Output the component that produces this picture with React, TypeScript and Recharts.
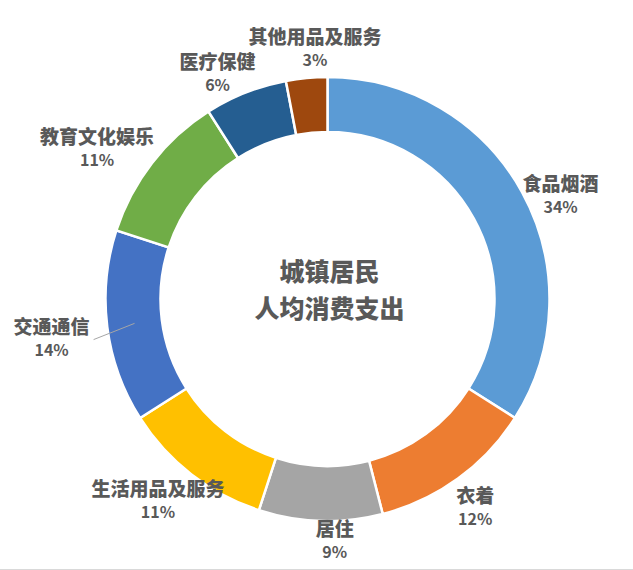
import React from "react";
import { PieChart, Pie, Cell } from "recharts";

const categories = ["食品烟酒", "衣着", "居住", "生活用品及服务", "交通通信", "教育文化娱乐", "医疗保健", "其他用品及服务"];
const shares = [34, 12, 9, 11, 14, 11, 6, 3];
const centerLines = ["城镇居民", "人均消费支出"];

const COLORS = ["#5B9BD5", "#ED7D31", "#A5A5A5", "#FFC000", "#4472C4", "#70AD47", "#255E91", "#9E480E"];
// small per-label layout nudges (px), mimicking Excel's best-fit placement
const LABEL_NUDGE: [number, number][] = [
  [0, 18], [2, 5], [15, -10], [10, 2], [-12, 8], [-6, 4], [-12, 9], [15, 0],
];
const LEADER = [false, false, false, false, true, false, false, false];

const data = categories.map((name, i) => ({ name, value: shares[i] }));
const total = shares.reduce((a, b) => a + b, 0);

const FONT = "'Noto Sans CJK SC', 'Noto Sans', sans-serif";
const TEXT = "#595959";
const RAD = Math.PI / 180;

const renderLabel = (props: any) => {
  const { cx, cy, midAngle, outerRadius, innerRadius, index, name, value } = props;
  const ux = Math.cos(-midAngle * RAD);
  const uy = Math.sin(-midAngle * RAD);
  const gap = 8;
  const nameSize = 18;
  const hw = (name.length * nameSize) / 2;
  const hh = 22;
  const ax = cx + (outerRadius + gap) * ux;
  const ay = cy + (outerRadius + gap) * uy;
  const [nx, ny] = LABEL_NUDGE[index] || [0, 0];
  const lx = ax + ux * hw + nx;
  const ly = ay + uy * hh + ny;
  const pct = Math.round((value / total) * 100) + "%";
  const midR = (innerRadius + outerRadius) / 2;
  return (
    <g>
      {LEADER[index] && (
        <line
          x1={lx + hw + 6}
          y1={ly + 1}
          x2={cx + midR * ux}
          y2={cy + midR * uy}
          stroke="#A6A6A6"
          strokeWidth={1}
        />
      )}
      <text textAnchor="middle" fill={TEXT} fontWeight={900} fontFamily={FONT}>
        <tspan x={lx} y={ly - 4.5} fontSize={19}>{name}</tspan>
        <tspan x={lx} y={ly + 17.5} fontSize={16} fontWeight={700}>{pct}</tspan>
      </text>
    </g>
  );
};

export default function App() {
  const cx = 327.5;
  const cy = 299;
  return (
    <div style={{ position: "absolute", left: 0, top: 0, width: 633, height: 570, background: "#fff", borderBottom: "1px solid #d9d9d9", boxSizing: "border-box" }}>
      <PieChart width={633} height={569} margin={{ top: 0, right: 0, bottom: 0, left: 0 }}>
        <Pie
          data={data}
          dataKey="value"
          nameKey="name"
          cx={cx}
          cy={cy}
          innerRadius={167}
          outerRadius={222}
          startAngle={90}
          endAngle={-270}
          stroke="#ffffff"
          strokeWidth={2.5}
          label={renderLabel}
          labelLine={false}
          isAnimationActive={false}
        >
          {data.map((d, i) => (
            <Cell key={d.name} fill={COLORS[i]} />
          ))}
        </Pie>
        <text textAnchor="middle" fill={TEXT} fontSize={25} fontWeight={900} fontFamily={FONT}>
          <tspan x={cx + 2} y={cy - 18}>{centerLines[0]}</tspan>
          <tspan x={cx + 2} y={cy + 18.5}>{centerLines[1]}</tspan>
        </text>
      </PieChart>
    </div>
  );
}
